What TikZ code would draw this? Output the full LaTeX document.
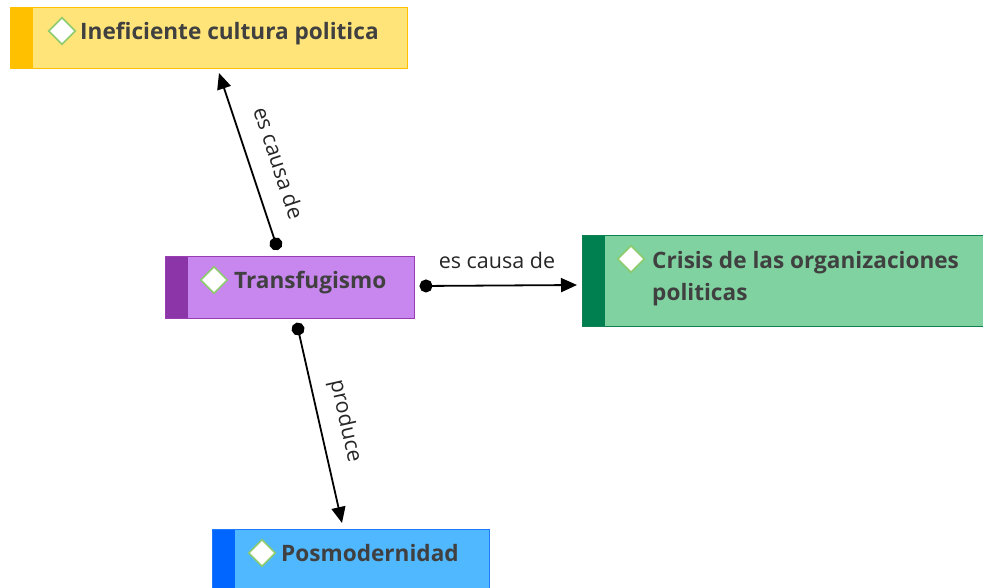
\documentclass[tikz,border=0pt]{standalone}
\usepackage{fontspec}
\setmainfont{Open Sans}
\usetikzlibrary{shapes.geometric,arrows.meta}
\definecolor{txt}{HTML}{404040}
\definecolor{ylfill}{HTML}{FFE47A}\definecolor{ylstripe}{HTML}{FFC000}\definecolor{ylborder}{HTML}{FFC000}
\definecolor{pufill}{HTML}{C887EE}\definecolor{pustripe}{HTML}{8B35A8}\definecolor{puborder}{HTML}{9A3DB5}
\definecolor{grfill}{HTML}{80D3A0}\definecolor{grstripe}{HTML}{008050}\definecolor{grborder}{HTML}{108050}
\definecolor{blfill}{HTML}{50B8FF}\definecolor{blstripe}{HTML}{0066FF}\definecolor{blborder}{HTML}{1E7BFF}
\definecolor{dmd}{HTML}{8CCB6E}
\tikzset{
  topic/.style n args={3}{draw=#3, fill=#1, line width=1.2pt, anchor=north west, inner sep=0pt,
    path picture={\fill[#2] (path picture bounding box.north west) rectangle ([xshift=22pt]path picture bounding box.south west);}},
  icon/.style={diamond, draw=dmd, fill=white, line width=1.6pt, minimum width=27pt, minimum height=27pt, inner sep=0pt},
  ttext/.style={text=txt, font=\fontsize{22.6}{32}\selectfont\bfseries, anchor=base west, inner sep=0pt},
  lab/.style={text=black!85, font=\fontsize{21.5}{24}\selectfont, inner sep=0pt},
  conn/.style={line width=1.8pt, black, {Circle[length=13pt]}-{Triangle[length=16pt,width=14pt]}}
}
\begin{document}
\begin{tikzpicture}[x=1pt,y=-1pt]
\useasboundingbox (0,0) rectangle (983,587);
% boxes
\node[topic={ylfill}{ylstripe}{ylborder}, minimum width=397pt, minimum height=61pt] (yb) at (10,7) {};
\node[topic={pufill}{pustripe}{puborder}, minimum width=249pt, minimum height=62pt] (pb) at (165,256) {};
\node[topic={grfill}{grstripe}{grborder}, minimum width=405pt, minimum height=91pt] (gb) at (582,235) {};
\node[topic={blfill}{blstripe}{blborder}, minimum width=277pt, minimum height=62pt] (bb) at (212,529) {};
% icons and texts
\node[icon] (yi) at (62,31) {};
\node[ttext] (yt) at (80,39) {Ineficiente cultura politica};
\node[icon] (pi) at (214,280) {};
\node[ttext] (pt) at (234,288) {Transfugismo};
\node[icon] (gi) at (631,259) {};
\node[ttext] (gt) at (652,268) {Crisis de las organizaciones};
\node[ttext] (gt2) at (652,300) {politicas};
\node[icon] (bi) at (262,553) {};
\node[ttext] (bt) at (281,561) {Posmodernidad};
% connector ends
\coordinate (a1) at (278,250); \coordinate (a2) at (219,73);
\coordinate (b1) at (419.5,286); \coordinate (b2) at (577,285);
\coordinate (c1) at (296.6,322.7); \coordinate (c2) at (342,523);
\draw[conn] (a1) -- (a2);
\draw[conn] (b1) -- (b2);
\draw[conn] (c1) -- (c2);
\node[lab, rotate=-71.6] (la) at (279,163) {es causa de};
\node[lab] (lb) at (497,260) {es causa de};
\node[lab, rotate=-77.2] (lc) at (345,421) {produce};
\end{tikzpicture}
\end{document}
